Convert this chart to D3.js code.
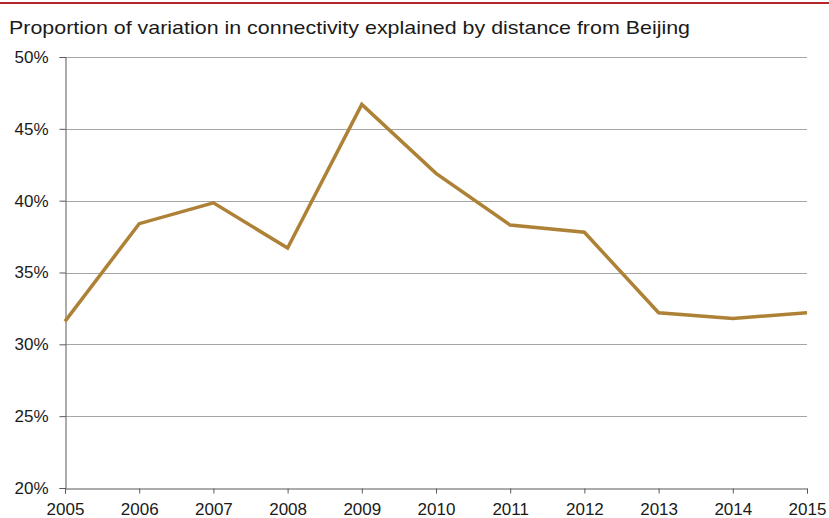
<!DOCTYPE html>
<html>
<head>
<meta charset="utf-8">
<script src="https://cdn.jsdelivr.net/npm/d3@7"></script>
<style>
  html, body { margin: 0; padding: 0; background: #fff; }
  svg { display: block; }
  text { font-family: "Liberation Sans", Arial, sans-serif; fill: #1a1a1a; }
</style>
</head>
<body>
<svg id="chart" width="829" height="518"></svg>
<script>
// Share of connectivity variation explained by distance from Beijing, by year
const years = [2005, 2006, 2007, 2008, 2009, 2010, 2011, 2012, 2013, 2014, 2015];
const shares = [31.6, 38.4, 39.85, 36.7, 46.7, 41.9, 38.3, 37.8, 32.2, 31.8, 32.2];
const yTicks = [20, 25, 30, 35, 40, 45, 50];
const titleText = "Proportion of variation in connectivity explained by distance from Beijing";

const W = 829, H = 518;
const margin = { left: 65, right: 22, top: 57, bottom: 30 };
const tickFont = "DejaVu Sans, Verdana, sans-serif";

const svg = d3.select("#chart");

// red rule across the top
svg.append("rect")
  .attr("x", 0).attr("y", 2).attr("width", W).attr("height", 2)
  .attr("fill", "#b3242b");

// title
svg.append("text")
  .attr("x", 9).attr("y", 34)
  .attr("font-size", 19)
  .attr("textLength", 681)
  .attr("lengthAdjust", "spacingAndGlyphs")
  .text(titleText);

const x = d3.scaleLinear()
  .domain([years[0], years[years.length - 1]])
  .range([margin.left, W - margin.right]);

const y = d3.scaleLinear()
  .domain([20, 50])
  .range([H - margin.bottom, margin.top]);

// horizontal gridlines
svg.append("g")
  .selectAll("line")
  .data(yTicks.filter(d => d > 20))
  .join("line")
  .attr("x1", margin.left).attr("x2", W - margin.right)
  .attr("y1", d => Math.round(y(d)) + 0.5).attr("y2", d => Math.round(y(d)) + 0.5)
  .attr("stroke", "#a6a6a6").attr("stroke-width", 1);

// y axis
const yAxis = svg.append("g")
  .attr("transform", `translate(${margin.left + 0.5},0)`)
  .call(d3.axisLeft(y).tickValues(yTicks).tickFormat(d => d + "%").tickSize(6).tickPadding(11));
yAxis.select(".domain").attr("stroke", "#595959");
yAxis.selectAll(".tick line").attr("stroke", "#595959");
yAxis.selectAll(".tick text")
  .attr("font-size", 17)
  .attr("font-family", tickFont)
  .attr("fill", "#1a1a1a");

// x axis
const xAxis = svg.append("g")
  .attr("transform", `translate(0,${Math.round(y(20)) + 0.5})`)
  .call(d3.axisBottom(x).tickValues(years).tickFormat(d3.format("d")).tickSize(5).tickPadding(9));
xAxis.select(".domain").attr("stroke", "#595959");
xAxis.selectAll(".tick line").attr("stroke", "#595959");
xAxis.selectAll(".tick text")
  .attr("font-size", 17)
  .attr("font-family", tickFont)
  .attr("fill", "#1a1a1a");

// data line
const line = d3.line()
  .x((d, i) => x(years[i]))
  .y(d => y(d));

svg.append("path")
  .datum(shares)
  .attr("d", line)
  .attr("fill", "none")
  .attr("stroke", "#ae8236")
  .attr("stroke-width", 3.5)
  .attr("stroke-linejoin", "miter");
</script>
</body>
</html>
